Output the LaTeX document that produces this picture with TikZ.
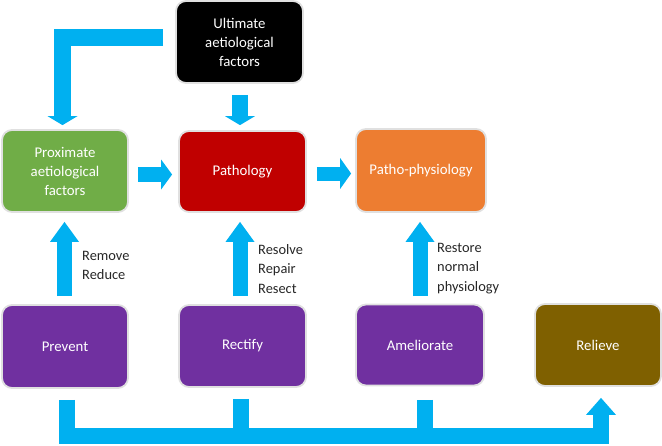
\documentclass[tikz,border=0pt]{standalone}
\usepackage{fontspec}
\setmainfont{Carlito}
\usetikzlibrary{arrows.meta,calc}
\definecolor{arrowblue}{HTML}{00B0F0}
\definecolor{boxgreen}{HTML}{70AD47}
\definecolor{boxred}{HTML}{C00000}
\definecolor{boxorange}{HTML}{ED7D31}
\definecolor{boxpurple}{HTML}{7030A0}
\definecolor{boxbrown}{HTML}{7F6000}
\begin{document}
\begin{tikzpicture}[x=1pt,y=-1pt,
  box/.style={draw=black!12, line width=1.8pt, rounded corners=10pt, text=white,
    align=center, inner sep=0pt, font=\fontsize{14.8}{19}\selectfont,
    minimum width=127pt, minimum height=82pt},
  lbl/.style={align=left, inner sep=0pt, text=black!85, anchor=west,
    font=\fontsize{14.4}{19.3}\selectfont},
  shaft/.style={draw=arrowblue, line join=miter, line cap=butt},
  longhead/.style={-{Triangle[width=29pt,length=20pt,line width=0pt]}}
]
\useasboundingbox (0,0) rectangle (662,445);

% boxes
\node[box, fill=black] (ult) at (239.5,42) {Ultimate\\aetiological\\factors};
\node[box, fill=boxgreen, minimum width=126pt] (prox) at (65,171) {Proximate\\aetiological\\factors};
\node[box, fill=boxred, minimum height=81pt] (path) at (242.5,171.5) {Pathology};
\node[box, fill=boxorange, minimum width=130pt, minimum height=83pt] (pp) at (421,170.5) {Patho-physiology};
\node[box, fill=boxpurple, minimum width=126pt, minimum height=83pt] (prev) at (65,346.5) {Prevent};
\node[box, fill=boxpurple] (rect) at (242.5,346) {Rectify};
\node[box, fill=boxpurple, minimum width=128pt, minimum height=81pt] (amel) at (420,345) {Ameliorate};
\node[box, fill=boxbrown, minimum width=126pt] (rel) at (598,345) {Relieve};

% top arrows
\draw[shaft, line width=17pt, -{Triangle[width=30pt,length=9pt,line width=0pt]}]
  ($(ult.west)+(-12,-4.5)$) -| ($(prox.north)+(-2.5,-4)$);
\draw[shaft, line width=16pt, -{Triangle[width=30pt,length=9pt,line width=0pt]}]
  ($(ult.south)+(0.5,11)$) -- ($(ult.south |- path.north)+(0.5,-5)$);
\draw[shaft, line width=15pt, -{Triangle[width=30pt,length=11pt,line width=0pt]}]
  ($(prox.east)+(9,3.5)$) -- ($(prox.east -| path.west)+(-6,3.5)$);
\draw[shaft, line width=14pt, -{Triangle[width=31pt,length=11pt,line width=0pt]}]
  ($(path.east)+(10,2)$) -- ($(path.east -| pp.west)+(-4,2)$);

% up arrows
\draw[shaft, line width=15pt, longhead]
  ($(prev.north)+(-0.5,-8)$) -- ($(prev.north |- prox.south)+(-0.5,9)$);
\draw[shaft, line width=15pt, longhead]
  ($(rect.north)+(-2.5,-8)$) -- ($(rect.north |- path.south)+(-2.5,9)$);
\draw[shaft, line width=15pt, longhead]
  ($(amel.north)+(0,-7.5)$) -- ($(amel.north |- pp.south)+(0,9)$);

% labels
\node[lbl] (l1) at (82,265.5) {Remove\\Reduce};
\node[lbl] (l2) at (258,269) {Resolve\\Repair\\Resect};
\node[lbl] (l3) at (437,268.5) {Restore\\normal\\physiology};

% bottom connector
\draw[shaft, line width=16pt] ($(rect.south)+(-2,11)$) -- ($(rect.south |- prev.south)+(-2,47)$);
\draw[shaft, line width=16pt] ($(amel.south)+(4.5,13.5)$) -- ($(amel.south |- prev.south)+(4.5,47)$);
\draw[shaft, line width=16pt, -{Triangle[width=30pt,length=17pt,line width=0pt]}]
  ($(prev.south)+(2,11)$) |- ($(prev.south -| rel.south)+(3,47)$) -- ($(rel.south)+(3,11)$);
\end{tikzpicture}
\end{document}
